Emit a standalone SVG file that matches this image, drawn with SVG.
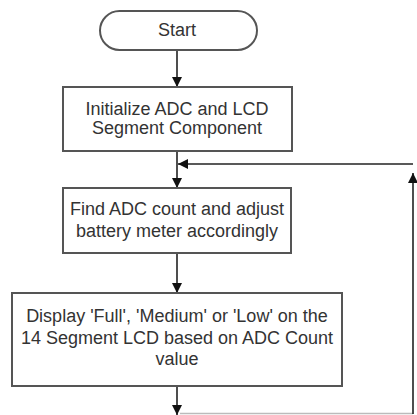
<svg xmlns="http://www.w3.org/2000/svg" width="417" height="415" viewBox="0 0 417 415">
<defs>
<marker id="ah" viewBox="0 0 10 10" refX="10" refY="5" markerWidth="10" markerHeight="10" markerUnits="userSpaceOnUse" orient="auto">
<path d="M0,0 L10,5 L0,10 z" fill="#111"/>
</marker>
<style>
.box{fill:#fff;stroke:#555;stroke-width:2}
.t{font-family:"Liberation Sans",Arial,sans-serif;font-size:18px;fill:#333;text-anchor:middle}
.c{fill:none;stroke:#222;stroke-width:1.6}
</style>
</defs>
<rect width="417" height="415" fill="#fff"/>
<g id="connectors">
<path class="c" d="M177,50 V87" marker-end="url(#ah)"/>
<path class="c" d="M177,151 V188" marker-end="url(#ah)"/>
<path class="c" d="M177,253 V293" marker-end="url(#ah)"/>
<path class="c" d="M177,386 V415"/>
<path d="M172,405 L177,415 L182,405 z" fill="#111"/>
<path d="M180,413.5 H413" fill="none" stroke="#bbb" stroke-width="1.5"/>
<path class="c" d="M413,414 V173" marker-end="url(#ah)"/>
<path class="c" d="M413,164 H178" marker-end="url(#ah)"/>
</g>
<g id="start">
<rect class="box" x="100" y="11" width="157" height="39" rx="19.5"/>
<text class="t" x="177" y="36">Start</text>
</g>
<g id="init">
<rect class="box" x="63" y="87" width="229" height="64"/>
<text class="t" x="177" y="115">Initialize ADC and LCD</text>
<text class="t" x="177" y="134">Segment Component</text>
</g>
<g id="find">
<rect class="box" x="63" y="188" width="228" height="65"/>
<text class="t" x="177" y="215">Find ADC count and adjust</text>
<text class="t" x="177" y="237">battery meter accordingly</text>
</g>
<g id="display">
<rect class="box" x="12" y="293" width="330" height="93"/>
<text class="t" x="177" y="322">Display 'Full', 'Medium' or 'Low' on the</text>
<text class="t" x="177" y="344">14 Segment LCD based on ADC Count</text>
<text class="t" x="177" y="365">value</text>
</g>
</svg>
